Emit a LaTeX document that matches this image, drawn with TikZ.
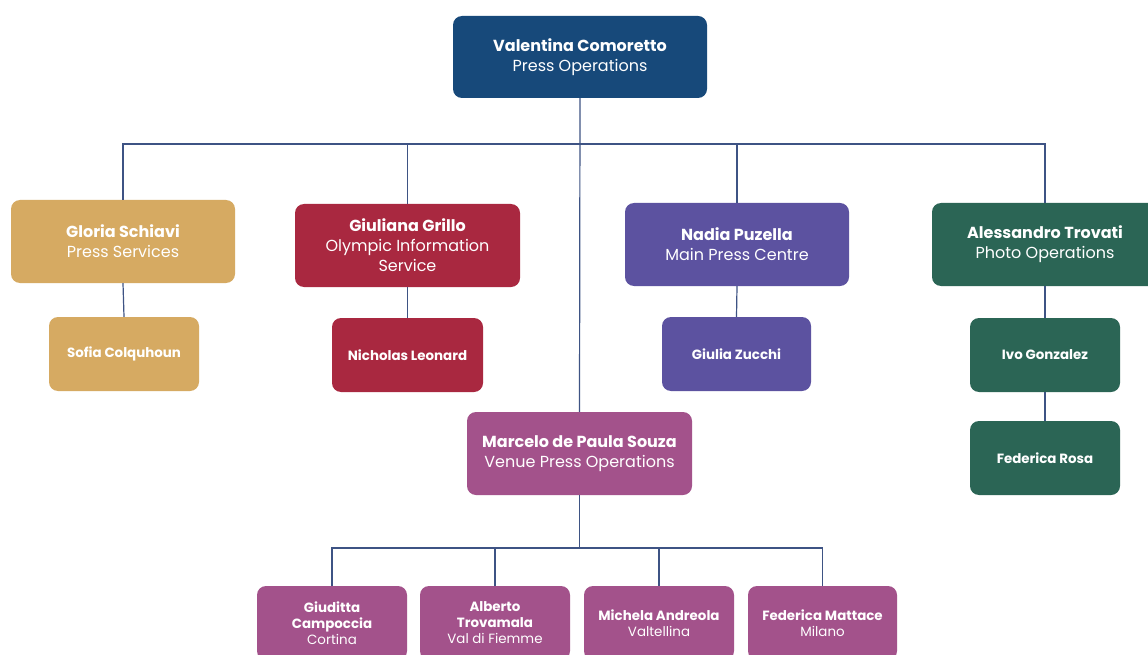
\documentclass[tikz,border=0pt]{standalone}
\usepackage{fontspec}
\setmainfont{Poppins}
\definecolor{navy}{HTML}{17497A}
\definecolor{gold}{HTML}{D6AA62}
\definecolor{crimson}{HTML}{A92840}
\definecolor{violet}{HTML}{5C52A0}
\definecolor{pine}{HTML}{2B6555}
\definecolor{plum}{HTML}{A3528B}
\definecolor{wire}{HTML}{3E5384}
\tikzset{
  box/.style={rounded corners=9pt, text=white, align=center, inner sep=2pt},
  bigbox/.style={box, minimum width=225pt, minimum height=83pt, font=\fontsize{16}{20}\selectfont},
  smallbox/.style={box, minimum width=150pt, minimum height=74pt, font=\fontsize{13.4}{16}\selectfont},
  link/.style={draw=wire, line width=1.2pt}
}
\begin{document}
\begin{tikzpicture}[x=1pt,y=-1pt]
\useasboundingbox (0,0) rectangle (1148,655);
\clip (0,0) rectangle (1148,655);
\fill[white] (0,0) rectangle (1148,655);
% connector buses
\coordinate (bus) at (580,144);
\coordinate (bus2) at (578,548);
% nodes
\node[bigbox, fill=navy, minimum width=254pt, minimum height=82pt] (top) at (580,57) {\textbf{Valentina Comoretto}\\Press Operations};
\node[bigbox, fill=gold, minimum width=224pt] (gloria) at (123,241.5) {\textbf{Gloria Schiavi}\\Press Services};
\node[smallbox, fill=gold] (sofia) at (124,354) {\textbf{Sofia Colquhoun}};
\node[bigbox, fill=crimson] (giuliana) at (407.5,245.5) {\textbf{Giuliana Grillo}\\Olympic Information\\Service};
\node[smallbox, fill=crimson, minimum width=151pt] (nicholas) at (407.5,355) {\textbf{Nicholas Leonard}};
\node[bigbox, fill=violet, minimum width=224pt] (nadia) at (737,244.5) {\textbf{Nadia Puzella}\\Main Press Centre};
\node[smallbox, fill=violet, minimum width=149pt] (giulia) at (736.5,354) {\textbf{Giulia Zucchi}};
\node[bigbox, fill=pine, minimum width=226pt] (ales) at (1045,244.5) {\textbf{Alessandro Trovati}\\Photo Operations};
\node[smallbox, fill=pine] (ivo) at (1045,355) {\textbf{Ivo Gonzalez}};
\node[smallbox, fill=pine] (rosa) at (1045,458) {\textbf{Federica Rosa}};
\node[bigbox, fill=plum] (marcelo) at (579.5,453.5) {\textbf{Marcelo de Paula Souza}\\Venue Press Operations};
\node[smallbox, fill=plum] (giud) at (332,623) {\textbf{Giuditta}\\\textbf{Campoccia}\\Cortina};
\node[smallbox, fill=plum] (alb) at (495,623) {\textbf{Alberto}\\\textbf{Trovamala}\\Val di Fiemme};
\node[smallbox, fill=plum] (mich) at (659,623) {\textbf{Michela Andreola}\\Valtellina};
\node[smallbox, fill=plum, minimum width=149pt] (fmat) at (822.5,623) {\textbf{Federica Mattace}\\Milano};
% connectors
\draw[link] (top.south) -- (marcelo.north);
\draw[link] (gloria.north) |- (bus) -| (ales.north);
\draw[link] (giuliana.north) -- (giuliana.north |- bus);
\draw[link] (nadia.north) -- (nadia.north |- bus);
\draw[link] (gloria.south) -- (sofia.north);
\draw[link] (giuliana.south) -- (nicholas.north);
\draw[link] (nadia.south) -- (giulia.north);
\draw[link] (ales.south) -- (ivo.north);
\draw[link] (ivo.south) -- (rosa.north);
\draw[link] (marcelo.south) -- (marcelo.south |- bus2);
\draw[link] (giud.north) |- (bus2) -| (fmat.north);
\draw[link] (alb.north) -- (alb.north |- bus2);
\draw[link] (mich.north) -- (mich.north |- bus2);
\end{tikzpicture}
\end{document}
